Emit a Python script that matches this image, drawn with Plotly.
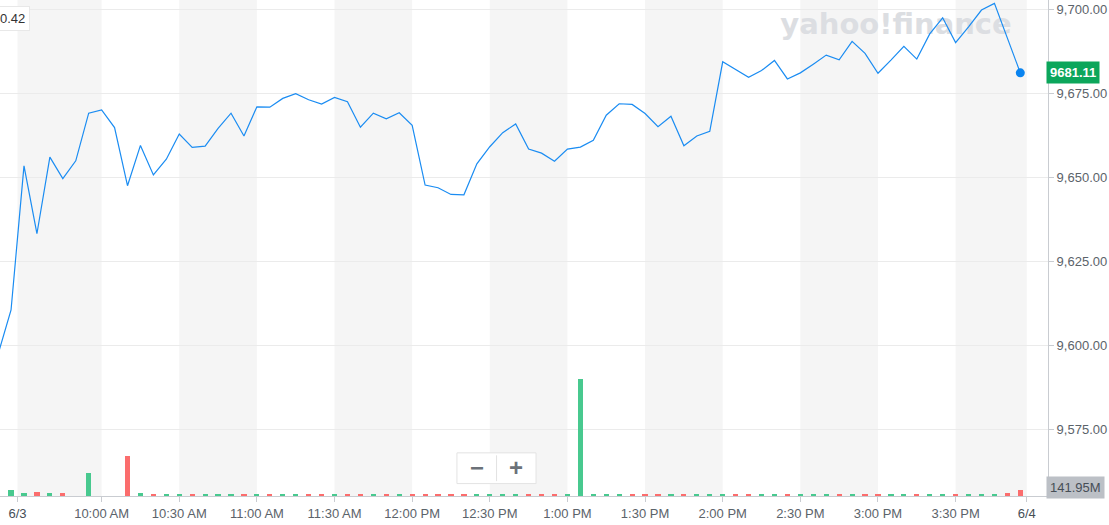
import plotly.graph_objects as go

# ---------------- data ----------------
minutes = list(range(-10, 390, 5))  # minutes from 9:30 AM, 5-minute bars

price = [
    9597.4, 9610.5, 9653.4, 9633.2, 9656.0, 9649.6, 9654.9, 9669.1, 9670.1, 9664.8,
    9647.5, 9659.5, 9650.7, 9655.4, 9662.9, 9658.9, 9659.3, 9664.6, 9669.1, 9662.3,
    9671.0, 9670.9, 9673.5, 9674.9, 9673.1, 9671.8, 9673.8, 9672.5, 9664.9, 9669.1,
    9667.4, 9669.2, 9665.5, 9647.7, 9646.9, 9644.9, 9644.8, 9654.0, 9659.1, 9663.3,
    9665.9, 9658.4, 9657.2, 9654.8, 9658.4, 9659.0, 9661.0, 9668.5, 9671.9, 9671.7,
    9669.0, 9665.1, 9668.2, 9659.4, 9662.3, 9663.7, 9684.4, 9682.1, 9679.8, 9681.8,
    9684.8, 9679.3, 9681.1, 9683.7, 9686.4, 9685.0, 9690.5, 9686.9, 9681.0, 9684.9,
    9689.0, 9685.2, 9692.7, 9697.5, 9690.1, 9694.8, 9699.8, 9701.8, 9691.6, 9681.11,
]

volume_m = (
    [0, 142, 71, 95, 71, 71, 0, 551, 0, 0,
     954, 78, 47, 47, 47, 24, 47, 47, 47, 24,
     24, 47, 24, 47, 24, 24, 24, 24]
    + [24] * 17
    + [2770]
    + [24] * 28
    + [47, 47, 47, 47, 71, 141.95]
)

tick_minutes = [-2.5, 30, 60, 90, 120, 150, 180, 210, 240, 270, 300, 330, 360, 387.5]
tick_labels = ["6/3", "10:00 AM", "10:30 AM", "11:00 AM", "11:30 AM", "12:00 PM",
               "12:30 PM", "1:00 PM", "1:30 PM", "2:00 PM", "2:30 PM", "3:00 PM",
               "3:30 PM", "6/4"]
date_labels = {"6/3", "6/4"}

price_ticks = [9575, 9600, 9625, 9650, 9675, 9700]
last_price_text = "9681.11"
last_volume_text = "141.95M"
corner_label = "0.42"

# ---------------- styles ----------------
FONT = "Liberation Sans, Arial, sans-serif"
LINE_BLUE = "#1a8cf2"
DOT_BLUE = "#0a84f0"
UP = "#48c98f"
DOWN = "#fb6d6d"
AXIS_GRAY = "#c9ccd1"
GRID = "#ebebeb"
BAND = "#f5f5f5"
LABEL_GRAY = "#5b636a"
DARK_GRAY = "#464e56"

vol_colors = [UP]
for i in range(1, len(price)):
    vol_colors.append(UP if price[i] >= price[i - 1] else DOWN)

fig = go.Figure()

fig.add_trace(go.Bar(
    x=minutes, y=volume_m, marker=dict(color=vol_colors, line=dict(width=0)),
    width=2.0, yaxis="y2", hoverinfo="skip", showlegend=False,
))

fig.add_trace(go.Scatter(
    x=minutes, y=price, mode="lines",
    line=dict(color=LINE_BLUE, width=1.2), hoverinfo="skip", showlegend=False,
))

fig.add_trace(go.Scatter(
    x=[minutes[-1]], y=[price[-1]], mode="markers",
    marker=dict(color=DOT_BLUE, size=9), hoverinfo="skip", showlegend=False,
))

# alternating background bands between consecutive ticks
shapes = []
for i in range(0, len(tick_minutes) - 1, 2):
    shapes.append(dict(
        type="rect", xref="x", yref="paper",
        x0=tick_minutes[i], x1=tick_minutes[i + 1], y0=0, y1=1,
        fillcolor=BAND, line=dict(width=0), layer="below",
    ))

# watermark
shapes.append(dict(
    type="rect", xref="paper", yref="paper", x0=0.74, x1=0.97, y0=0.915, y1=0.995,
    line=dict(width=0), fillcolor="rgba(0,0,0,0)", layer="below",
    label=dict(text="<b>yahoo!finance</b>", font=dict(family="DejaVu Sans", size=29, color="#dcdee2"),
               textposition="middle center"),
))

# zoom control box
shapes.append(dict(
    type="rect", xref="paper", yref="paper", x0=0.436, x1=0.5115, y0=0.025, y1=0.087,
    fillcolor="white", line=dict(color="#e3e3e3", width=1), layer="above",
))
shapes.append(dict(
    type="line", xref="paper", yref="paper", x0=0.4738, x1=0.4738, y0=0.03, y1=0.082,
    line=dict(color="#e3e3e3", width=1), layer="above",
))

ticktext = [
    f"<span style='color:{DARK_GRAY}'>{t}</span>" if t in date_labels else t
    for t in tick_labels
]

annotations = [
    dict(xref="paper", yref="y", x=1, y=price[-1], xanchor="left", yanchor="middle",
         xshift=-2, text=f"<b>{last_price_text}</b>", showarrow=False,
         font=dict(family=FONT, size=13, color="white"),
         bgcolor="#0ca65b", borderpad=3),
    dict(xref="paper", yref="y2", x=1, y=volume_m[-1], xanchor="left", yanchor="middle",
         xshift=-2, yshift=3, text=last_volume_text, showarrow=False,
         font=dict(family=FONT, size=13, color=DARK_GRAY),
         bgcolor="#bcc0c6", borderpad=3),
    dict(xref="paper", yref="paper", x=0, y=0.962, xanchor="left", yanchor="middle",
         text=corner_label, showarrow=False,
         font=dict(family=FONT, size=13, color="#333333"),
         bgcolor="white", bordercolor="#e8e8e8", borderwidth=1, borderpad=4, xshift=-5),
    dict(xref="paper", yref="paper", x=0.4553, y=0.0565, xanchor="center", yanchor="middle",
         text="<b>−</b>", showarrow=False,
         font=dict(family=FONT, size=24, color="#6b7178")),
    dict(xref="paper", yref="paper", x=0.4928, y=0.0565, xanchor="center", yanchor="middle",
         text="<b>+</b>", showarrow=False,
         font=dict(family=FONT, size=24, color="#6b7178")),
]

fig.update_layout(
    width=1109, height=525,
    margin=dict(l=0, r=61, t=0, b=29),
    paper_bgcolor="white", plot_bgcolor="white",
    font=dict(family=FONT, size=13, color=LABEL_GRAY),
    showlegend=False,
    bargap=0,
    shapes=shapes,
    annotations=annotations,
    xaxis=dict(
        range=[-9.27, 395.7], tickmode="array", tickvals=tick_minutes, ticktext=ticktext,
        ticks="outside", ticklen=5, tickcolor=AXIS_GRAY, showgrid=False, zeroline=False,
        showline=True, linecolor=AXIS_GRAY, linewidth=1,
        tickfont=dict(family=FONT, size=13, color=LABEL_GRAY),
    ),
    yaxis=dict(
        side="right", range=[9555.1, 9702.8], tickmode="array", tickvals=price_ticks,
        tickformat=",.2f", ticks="outside", ticklen=5, tickcolor=AXIS_GRAY,
        showgrid=True, gridcolor=GRID, gridwidth=1, zeroline=False,
        showline=True, linecolor=AXIS_GRAY, linewidth=1,
        tickfont=dict(family=FONT, size=13, color=LABEL_GRAY),
    ),
    yaxis2=dict(
        overlaying="y", range=[0, 11735], visible=False, showgrid=False, zeroline=False,
    ),
)

fig.write_html(
    "out.html",
    config={"displayModeBar": False},
    post_script="document.body.style.margin='0';document.body.style.overflow='hidden';",
)
